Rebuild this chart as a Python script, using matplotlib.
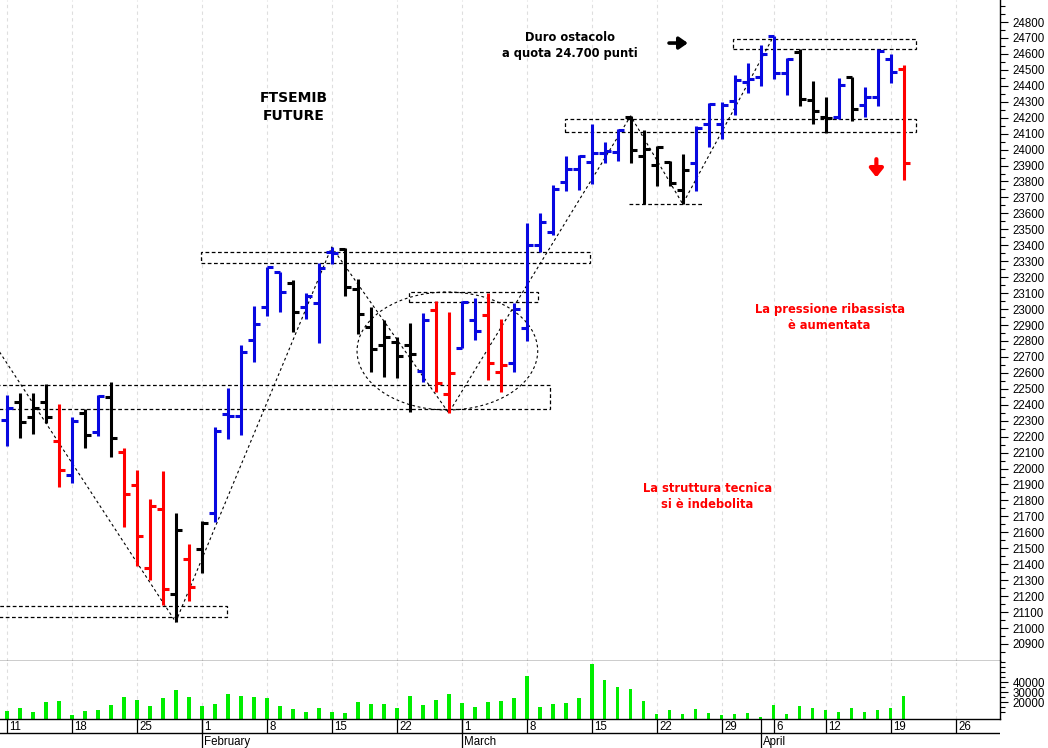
import numpy as np
import pandas as pd
import matplotlib
matplotlib.use("Agg")
import matplotlib.pyplot as plt
from matplotlib.patches import Rectangle, Ellipse

plt.rcParams["font.family"] = ["Liberation Sans", "DejaVu Sans"]

# trading sessions (market closed 2 and 5 April)
calendar = pd.bdate_range("2021-01-11", "2021-04-30")
calendar = calendar[~calendar.isin(pd.to_datetime(["2021-04-02", "2021-04-05"]))]

opens = [22305, 22418, 22323, 22418, 22173, 21960, 22349, 22229, 22449, 22104,
         21897, 21377, 21747, 21214, 21433, 21496, 21722, 22342, 22330, 22806,
         23013, 23233, 23164, 23013, 23038, 23358, 23377, 23126, 22888, 22775,
         22794, 22775, 22612, 22994, 22468, 22756, 22932, 22963, 22606, 22662,
         22881, 23402, 23483, 23797, 23878, 23922, 23979, 23985, 24204, 23960,
         23903, 23922, 23747, 23916, 24161, 24161, 24305, 24424, 24455, 24712,
         24480, 24612, 24311, 24204, 24204, 24455, 24280, 24330, 24568, 24505]
highs = [22461, 22474, 22474, 22530, 22405, 22323, 22374, 22461, 22543, 22129,
         21991, 21809, 21985, 21722, 21527, 21671, 22261, 22505, 22775, 23019,
         23264, 23233, 23182, 23101, 23289, 23389, 23383, 23189, 23013, 22932,
         22825, 22913, 22976, 23051, 22982, 23051, 23070, 23101, 22938, 23038,
         23540, 23603, 23778, 23960, 23966, 24161, 24048, 24129, 24211, 24123,
         24023, 23929, 23972, 24148, 24292, 24298, 24468, 24543, 24656, 24712,
         24574, 24631, 24430, 24330, 24449, 24455, 24393, 24631, 24599, 24530]
lows = [22142, 22192, 22217, 22286, 21885, 21910, 22129, 22204, 22073, 21634,
        21389, 21301, 21145, 21038, 21170, 21345, 21665, 22185, 22211, 22668,
        22957, 22982, 22856, 22938, 22787, 23283, 23082, 22844, 22606, 22574,
        22568, 22355, 22543, 22480, 22349, 22756, 22806, 22555, 22480, 22606,
        22800, 23358, 23465, 23740, 23747, 23784, 23916, 23929, 23916, 23659,
        23772, 23772, 23659, 23740, 24016, 24066, 24217, 24355, 24399, 24443,
        24342, 24273, 24161, 24104, 24192, 24179, 24204, 24273, 24418, 23809]
closes = [22380, 22292, 22380, 22323, 21991, 22298, 22211, 22455, 22192, 21841,
          21577, 21765, 21245, 21615, 21258, 21659, 22236, 22330, 22731, 22907,
          23264, 23107, 22982, 23082, 23258, 23352, 23139, 22969, 22750, 22825,
          22706, 22718, 22932, 22537, 22599, 23044, 22863, 22662, 22650, 23001,
          23402, 23546, 23753, 23878, 23960, 23979, 23991, 24123, 23998, 24004,
          24016, 23791, 23872, 24135, 24286, 24280, 24436, 24443, 24599, 24480,
          24568, 24317, 24242, 24198, 24405, 24255, 24330, 24618, 24487, 23916]
# b = rialzo, r = ribasso, k = neutro
bar_signal = ("bkkkrbkbkr" "rrrkrkbbbb" "bbkbbbkkkk" "kkbrrbbrrb" "bbbbbbbbkk"
              "kkkbbbbbbb" "bkkkbkbbbr")
volume = [11600, 14000, 10600, 20300, 21300, 7000, 11600, 12000, 17600, 25000,
          22300, 16600, 24300, 32300, 25000,
          16600, 18600, 28000, 26300, 25000, 24300, 16600, 13000, 10000, 14600,
          10300, 9600, 20300, 18000, 18000, 14000, 26000, 17000, 22300, 28300,
          19300, 15600, 20000, 21300, 24300, 46600, 15600, 18000, 19300, 24300,
          58300, 42000, 35000, 33000, 21000, 8000, 12300, 8600, 13300, 9600,
          7300, 8600, 9000,
          5300, 17300, 8600, 16000, 14000, 12300, 10600, 14300, 10600, 12300,
          14000, 26300]

# disegno tecnico: zone (x da, x a, prezzo min, prezzo max)
zones = [(-0.6, 41.8, 22374, 22524),
         (-0.6, 16.95, 21071, 21140),
         (14.95, 44.9, 23287, 23355),
         (30.95, 40.87, 23044, 23107),
         (42.95, 69.95, 24112, 24190),
         (55.87, 69.95, 24629, 24692)]
support_line = (47.9, 53.6, 23659)
# trendline: (barra, "h"/"l") collegate in sequenza
trend_points = [(13, "l"), (25, "h"), (34, "l"), (48, "h"), (52, "l"), (59, "h")]
trend_start = (-0.55, 22731)
ellipse = (33.9, 22737, 13.9, 740)

n = len(opens)
x = np.arange(n)
palette = {"b": "#0808e0", "r": "#ff0000", "k": "#000000"}
cols = [palette[c] for c in bar_signal]

xlo, xhi = -0.515, 76.41
fw, fh = 1048, 748
W = 1000 / fw

fig = plt.figure(figsize=(fw / 100, fh / 100), dpi=100)
ax = fig.add_axes([0, 1 - 660.7 / fh, W, 660.7 / fh])
axv = fig.add_axes([0, 1 - 718.7 / fh, W, 58 / fh])
axd = fig.add_axes([0, 0, W, 29.3 / fh])

# settimane e mesi
week_idx, week_lab = [], []
for i, d in enumerate(calendar):
    if i == 0 or d.weekday() < calendar[i - 1].weekday():
        if i <= xhi:
            week_idx.append(i)
            week_lab.append(str(d.day))
month_idx, month_lab = [], []
for i in range(1, len(calendar)):
    if calendar[i].month != calendar[i - 1].month and i <= xhi:
        month_idx.append(i)
        month_lab.append(calendar[i].strftime("%B"))

for a in (ax, axv):
    a.set_xlim(xlo, xhi)
    a.set_xticks([])
    for wi in week_idx:
        a.axvline(wi, color="#dedede", lw=0.8, ls=(0, (3, 3)), zorder=0)
    a.spines["left"].set_visible(False)
    a.spines["top"].set_visible(False)
    a.spines["right"].set_linewidth(1.0)
    a.spines["bottom"].set_linewidth(1.0)
    a.yaxis.tick_right()

# barre OHLC
ax.vlines(x, lows, highs, colors=cols, lw=2.2, zorder=3)
ax.hlines(opens, x - 0.47, x, colors=cols, lw=2.2, zorder=3)
ax.hlines(closes, x, x + 0.47, colors=cols, lw=2.2, zorder=3)

ax.set_ylim(20795, 24938)
ax.set_yticks(np.arange(20900, 24801, 100))
ax.set_yticks(np.arange(20850, 24901, 50), minor=True)
ax.tick_params(axis="y", which="major", length=6, width=0.8, labelsize=8.3, pad=3)
ax.tick_params(axis="y", which="minor", length=3.5, width=0.8)

# zone e linee
for x0, x1, p0, p1 in zones:
    ax.add_patch(Rectangle((x0, p0), x1 - x0, p1 - p0, fill=False, ec="black",
                           lw=0.9, ls=(0, (3, 2)), zorder=2))
ax.hlines(support_line[2], support_line[0], support_line[1], colors="black",
          lw=0.9, ls=(0, (3, 2)), zorder=2)
tx = [trend_start[0]]
ty = [trend_start[1]]
for b, k in trend_points:
    tx.append(b)
    ty.append(highs[b] if k == "h" else lows[b])
ax.plot(tx, ty, color="black", lw=0.8, ls=(0, (2.5, 2.5)), zorder=2)
ax.add_patch(Ellipse((ellipse[0], ellipse[1]), ellipse[2], ellipse[3], fill=False,
                     ec="black", lw=0.8, ls=(0, (2.5, 2.5)), zorder=2))

# testi
bold = dict(family="DejaVu Sans", fontweight="bold", ha="center", va="center",
            linespacing=1.3)
ax.text(22.1, 24267, "FTSEMIB\nFUTURE", fontsize=10, color="black", **bold)
ax.text(43.3, 24653, "Duro ostacolo\na quota 24.700 punti", fontsize=8.3,
        color="black", **bold)
ax.text(63.3, 22944, "La pressione ribassista\nè aumentata", fontsize=8.3,
        color="#ff0000", **bold)
ax.text(53.9, 21825, "La struttura tecnica\nsi è indebolita", fontsize=8.3,
        color="#ff0000", **bold)
ax.annotate("", xy=(52.4, 24668), xytext=(50.95, 24668),
            arrowprops=dict(arrowstyle="-|>,head_length=0.5,head_width=0.35",
                            color="black", lw=2.6, shrinkA=0, shrinkB=0))
ax.annotate("", xy=(66.9, 23826), xytext=(66.9, 23940),
            arrowprops=dict(arrowstyle="-|>,head_length=0.5,head_width=0.4",
                            color="#ff0000", lw=3, shrinkA=0, shrinkB=0))

# volumi
axv.bar(x, volume, width=0.28, color="#00ee00", zorder=2)
axv.set_ylim(3600, 61600)
axv.set_yticks([20000, 30000, 40000])
axv.set_yticks(np.arange(10000, 60001, 5000), minor=True)
axv.tick_params(axis="y", which="major", length=6, width=0.8, labelsize=8.3, pad=3)
axv.tick_params(axis="y", which="minor", length=3.5, width=0.8)

# righe delle date
axd.set_xlim(xlo, xhi)
axd.set_ylim(0, 2)
axd.axis("off")
axd.axhline(1.0, color="black", lw=1.0)
for wi, lab in zip(week_idx, week_lab):
    axd.vlines(wi, 1.0, 2.0, colors="black", lw=0.9)
    axd.text(wi + 0.2, 1.45, lab, fontsize=8.3, ha="left", va="center")
for mi, lab in zip(month_idx, month_lab):
    axd.vlines(mi, 0.0, 2.0, colors="black", lw=0.9)
    axd.text(mi + 0.2, 0.42, lab, fontsize=8.3, ha="left", va="center")

fig.savefig("out.png", dpi=100)
